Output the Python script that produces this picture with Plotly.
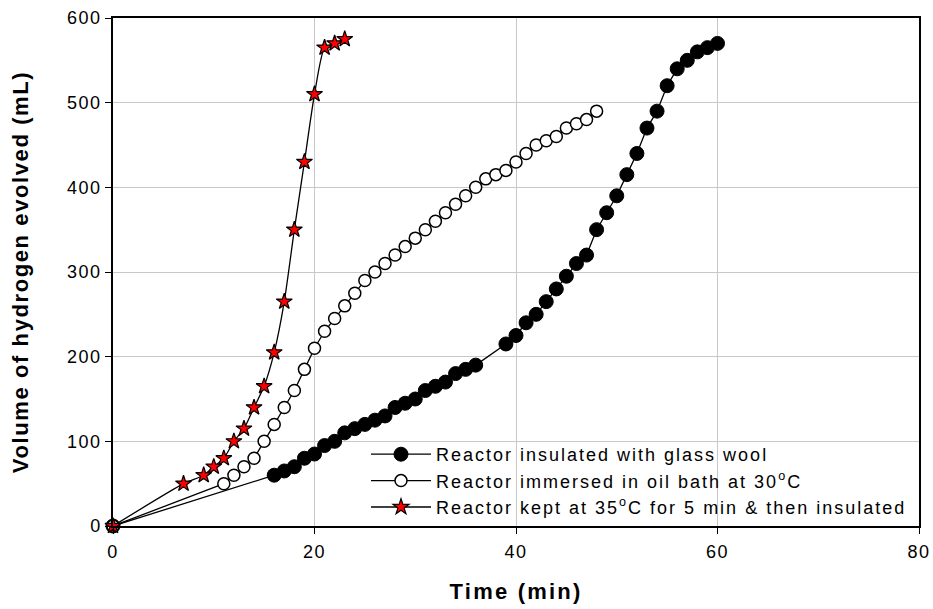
import plotly.graph_objects as go

# Reactor insulated with glass wool
t_insulated = [0, 16, 17, 18, 19, 20, 21, 22, 23, 24, 25, 26, 27, 28, 29, 30, 31, 32, 33, 34, 35, 36,
               39, 40, 41, 42, 43, 44, 45, 46, 47, 48, 49, 50, 51, 52, 53, 54, 55, 56, 57, 58, 59, 60]
v_insulated = [0, 60, 65, 70, 80, 85, 95, 100, 110, 115, 120, 125, 130, 140, 145, 150, 160, 165, 170, 180, 185, 190,
               215, 225, 240, 250, 265, 280, 295, 310, 320, 350, 370, 390, 415, 440, 470, 490, 520, 540, 550, 560, 565, 570]

# Reactor immersed in oil bath at 30 C
t_oil = [0, 11, 12, 13, 14, 15, 16, 17, 18, 19, 20, 21, 22, 23, 24, 25, 26, 27, 28, 29, 30, 31, 32, 33, 34,
         35, 36, 37, 38, 39, 40, 41, 42, 43, 44, 45, 46, 47, 48]
v_oil = [0, 50, 60, 70, 80, 100, 120, 140, 160, 185, 210, 230, 245, 260, 275, 290, 300, 310, 320, 330, 340, 350, 360, 370, 380,
         390, 400, 410, 415, 420, 430, 440, 450, 455, 460, 470, 475, 480, 490]

# Reactor kept at 35 C for 5 min & then insulated
t_kept = [0, 7, 9, 10, 11, 12, 13, 14, 15, 16, 17, 18, 19, 20, 21, 22, 23]
v_kept = [0, 50, 60, 70, 80, 100, 115, 140, 165, 205, 265, 350, 430, 510, 565, 570, 575]

x_ticks = [0, 20, 40, 60, 80]
y_ticks = [0, 100, 200, 300, 400, 500, 600]

names = ["Reactor insulated with glass wool",
         "Reactor immersed in oil bath at 30<sup>o</sup>C",
         "Reactor kept at 35<sup>o</sup>C for 5 min & then insulated"]

FONT = "Liberation Sans, Arial, sans-serif"


def spaced(text, px):
    return f'<span style="letter-spacing:{px}px">{text}</span>'


fig = go.Figure()
fig.add_trace(go.Scatter(
    x=t_insulated, y=v_insulated, mode="lines+markers",
    name=spaced(names[0], 2.0),
    line=dict(color="black", width=1.3),
    marker=dict(symbol="circle", size=14, color="black", line=dict(color="black", width=1)),
    cliponaxis=False,
))
fig.add_trace(go.Scatter(
    x=t_oil, y=v_oil, mode="lines+markers",
    name=spaced(names[1], 2.0),
    line=dict(color="black", width=1.3),
    marker=dict(symbol="circle", size=12, color="white", line=dict(color="black", width=1.5)),
    cliponaxis=False,
))
fig.add_trace(go.Scatter(
    x=t_kept, y=v_kept, mode="lines+markers",
    name=spaced(names[2], 2.0),
    line=dict(color="black", width=1.3, shape="spline", smoothing=0.6),
    marker=dict(symbol="star", size=12, color="red", line=dict(color="black", width=1.2)),
    cliponaxis=False,
))

fig.update_layout(
    width=933, height=609,
    margin=dict(l=113, r=14, t=18, b=83, autoexpand=False),
    paper_bgcolor="white", plot_bgcolor="white",
    font=dict(family=FONT, size=18, color="black"),
    showlegend=True,
    legend=dict(
        x=(366 - 113) / 806, y=0.0, xanchor="left", yanchor="bottom",
        bgcolor="rgba(0,0,0,0)", borderwidth=0,
        font=dict(family=FONT, size=18, color="black"),
        tracegroupgap=0, itemwidth=60,
    ),
    xaxis=dict(
        range=[0, 80], tickvals=x_ticks, ticktext=[spaced(str(v), 1.5) for v in x_ticks],
        showgrid=True, gridcolor="#c8c8c8", gridwidth=1,
        showline=True, linecolor="black", linewidth=1.5, mirror=True,
        ticks="outside", ticklen=6, tickcolor="black", tickwidth=1.2,
        ticklabelstandoff=3,
        zeroline=False, automargin=False,
        tickfont=dict(family=FONT, size=18),
        title=dict(text="<b>" + spaced("Time (min)", 2.2) + "</b>", font=dict(family=FONT, size=22), standoff=22),
    ),
    yaxis=dict(
        range=[0, 600], tickvals=y_ticks, ticktext=[spaced(str(v), 1.5) for v in y_ticks],
        showgrid=True, gridcolor="#c8c8c8", gridwidth=1,
        showline=True, linecolor="black", linewidth=1.5, mirror=True,
        ticks="outside", ticklen=6, tickcolor="black", tickwidth=1.2,
        zeroline=False, automargin=False,
        tickfont=dict(family=FONT, size=18),
        title=dict(text="<b>" + spaced("Volume of hydrogen evolved (mL)", 1.6) + "</b>",
                   font=dict(family=FONT, size=22), standoff=32),
    ),
)

fig.write_html("out.html")
